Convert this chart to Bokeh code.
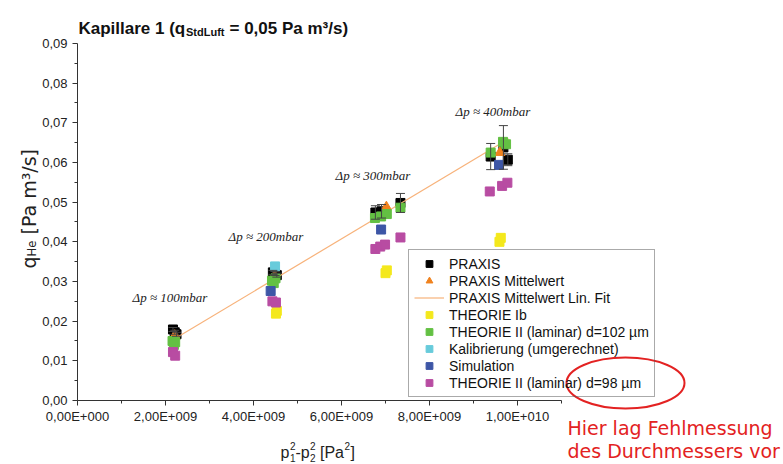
import math
from bokeh.plotting import figure
from bokeh.models import (Range1d, FixedTicker, Label, Legend, LegendItem,
                          Whisker, TeeHead, ColumnDataSource)
from bokeh.embed import file_html
from bokeh.resources import INLINE

# ---------------- data ----------------
praxis_x = [2.17e9, 2.21e9, 2.25e9, 4.44e9, 4.49e9, 4.53e9, 6.77e9, 6.91e9, 7.34e9, 9.39e9, 9.68e9, 9.78e9]
praxis_y = [0.0179, 0.0172, 0.0167, 0.0323, 0.0320, 0.0316, 0.0474, 0.0477, 0.0498, 0.0615, 0.0638, 0.0607]
praxis_err = [0.0005, 0.0005, 0.0005, 0.0005, 0.0005, 0.0005, 0.0017, 0.0017, 0.0024, 0.0033, 0.0055, 0.0015]

mean_x = [2.21e9, 4.48e9, 7.02e9, 9.60e9]
mean_y = [0.0164, 0.0314, 0.0488, 0.0625]

fit_x = [2.2e9, 9.8e9]
fit_y = [0.0155, 0.0660]

theo1b_x = [4.51e9, 4.53e9, 7.00e9, 7.03e9, 9.59e9, 9.62e9]
theo1b_y = [0.0219, 0.0226, 0.0321, 0.0328, 0.0400, 0.0410]

theo2_102_x = [2.16e9, 2.22e9, 2.19e9, 4.42e9, 4.50e9, 4.46e9, 6.76e9, 6.90e9, 7.03e9, 7.34e9, 9.39e9, 9.67e9, 9.74e9]
theo2_102_y = [0.0150, 0.0147, 0.0140, 0.0302, 0.0308, 0.0296, 0.0460, 0.0464, 0.0470, 0.0486, 0.0625, 0.0652, 0.0646]

kalib_x = [4.49e9]
kalib_y = [0.0338]

sim_x = [4.39e9, 6.90e9, 9.58e9]
sim_y = [0.0276, 0.0431, 0.0594]

theo2_98_x = [2.17e9, 2.22e9, 4.43e9, 4.51e9, 6.77e9, 6.88e9, 6.99e9, 7.34e9, 9.37e9, 9.65e9, 9.77e9]
theo2_98_y = [0.0122, 0.0113, 0.0250, 0.0247, 0.0382, 0.0388, 0.0393, 0.0411, 0.0527, 0.0541, 0.0549]

x_ticks = [0, 2e9, 4e9, 6e9, 8e9, 1e10]
x_tick_labels = ["0,00E+000", "2,00E+009", "4,00E+009", "6,00E+009", "8,00E+009", "1,00E+010"]
x_minor = [1e9, 3e9, 5e9, 7e9, 9e9, 1.1e10]
y_ticks = [0.0, 0.01, 0.02, 0.03, 0.04, 0.05, 0.06, 0.07, 0.08, 0.09]
y_tick_labels = ["0,00", "0,01", "0,02", "0,03", "0,04", "0,05", "0,06", "0,07", "0,08", "0,09"]
y_minor = [0.005, 0.015, 0.025, 0.035, 0.045, 0.055, 0.065, 0.075, 0.085]

dp_labels = ["Δp ≈ 100mbar", "Δp ≈ 200mbar", "Δp ≈ 300mbar", "Δp ≈ 400mbar"]

legend_labels = ["PRAXIS", "PRAXIS Mittelwert", "PRAXIS Mittelwert Lin. Fit", "THEORIE Ib",
                 "THEORIE II (laminar) d=102 µm", "Kalibrierung (umgerechnet)", "Simulation",
                 "THEORIE II (laminar) d=98 µm"]

# ---------------- geometry (canvas px -> data, for annotations) ----------------
X0, XPX = 77.0, 44.0 / 1e9     # px of x=0, px per unit
Y0, YPX = 400.0, 3966.7        # px of y=0, px per unit
W, H = 783, 464


def ax(px):
    return (px - X0) / XPX


def ay(py):
    return (Y0 - py) / YPX


p = figure(width=W, height=H, output_backend="svg", toolbar_location=None,
           x_range=Range1d(ax(0), ax(W)), y_range=Range1d(ay(H), ay(0)),
           min_border=0, min_border_left=0, min_border_right=0, min_border_top=0, min_border_bottom=0)
p.outline_line_color = None
p.grid.visible = False
p.background_fill_color = "white"
p.border_fill_color = "white"

AX_COL = "#333333"
for axis in (p.xaxis[0], p.yaxis[0]):
    axis.axis_line_color = AX_COL
    axis.major_tick_line_color = AX_COL
    axis.minor_tick_line_color = AX_COL
    axis.major_tick_out = 5
    axis.major_tick_in = 0
    axis.minor_tick_out = 3
    axis.minor_tick_in = 0
    axis.major_label_text_font = "Liberation Sans"
    axis.major_label_text_font_size = "13px"
    axis.major_label_text_color = "#222222"
    axis.fixed_location = 0

p.xaxis.ticker = FixedTicker(ticks=x_ticks, minor_ticks=x_minor)
p.xaxis.major_label_overrides = dict(zip(x_ticks, x_tick_labels))
p.xaxis.bounds = (0, 1.1e10)
p.xaxis.major_label_standoff = 3

p.yaxis.ticker = FixedTicker(ticks=y_ticks, minor_ticks=y_minor)
p.yaxis.major_label_overrides = dict(zip(y_ticks, y_tick_labels))
p.yaxis.bounds = (0, 0.09)
p.yaxis.major_label_standoff = 5

# ---------------- series ----------------
SQ = 9
r_praxis = p.scatter(praxis_x, praxis_y, marker="square", size=SQ, color="#000000")
r_mean = p.scatter(mean_x, mean_y, marker="triangle", size=10, color="#f0821e")
r_fit = p.line(fit_x, fit_y, line_color="#f7b27a", line_width=1.2)
r_1b = p.scatter(theo1b_x, theo1b_y, marker="square", size=SQ, color="#f4e81c")
r_102 = p.scatter(theo2_102_x, theo2_102_y, marker="square", size=SQ, color="#63c043")
r_kal = p.scatter(kalib_x, kalib_y, marker="square", size=SQ, color="#67cbdb")
r_sim = p.scatter(sim_x, sim_y, marker="square", size=SQ, color="#3d56a6")
r_98 = p.scatter(theo2_98_x, theo2_98_y, marker="square", size=SQ, color="#b84ca2")

err_src = ColumnDataSource(dict(
    x=praxis_x,
    upper=[y + e for y, e in zip(praxis_y, praxis_err)],
    lower=[y - e for y, e in zip(praxis_y, praxis_err)],
))
p.add_layout(Whisker(base="x", upper="upper", lower="lower", source=err_src, dimension="height",
                     line_color="#444444", line_width=1, level="overlay",
                     upper_head=TeeHead(size=9, line_color="#444444", line_width=1),
                     lower_head=TeeHead(size=9, line_color="#444444", line_width=1)))

# ---------------- red remark ellipse (glyph, visible through the transparent legend) ----------------
p.ellipse(x=[ax(625)], y=[ay(382.5)], width=[118], height=[51], width_units="screen",
          height_units="screen", fill_alpha=0, line_color="#e32222", line_width=2)

# ---------------- legend ----------------
renderers = [r_praxis, r_mean, r_fit, r_1b, r_102, r_kal, r_sim, r_98]
legend = Legend(items=[LegendItem(label=l, renderers=[r]) for l, r in zip(legend_labels, renderers)],
                location=(408, H - 397), orientation="vertical",
                label_text_font="Liberation Sans", label_text_font_size="14px", label_text_color="#111111",
                glyph_width=30, glyph_height=17, label_height=17, label_standoff=5,
                spacing=0, padding=5, margin=0,
                border_line_color="#555555", border_line_width=1.3,
                background_fill_color="white", background_fill_alpha=0.0)
p.add_layout(legend, "center")

# ---------------- annotations ----------------
dp_pos = [(132, 297), (228, 236), (335, 175), (455, 111)]
for txt, (px, py) in zip(dp_labels, dp_pos):
    p.add_layout(Label(x=ax(px), y=ay(py), text=txt, text_font="Liberation Serif",
                       text_font_style="italic", text_font_size="13px", text_color="#222222",
                       text_baseline="middle", text_align="left"))

# title with subscript
title_parts = [("Kapillare 1 (q", 78, 28, "17px"), ("StdLuft", 185.5, 31.5, "11px"),
               ("= 0,05 Pa m³/s)", 229, 28, "17px")]
for txt, px, py, fs in title_parts:
    p.add_layout(Label(x=ax(px), y=ay(py), text=txt, text_font="Liberation Sans",
                       text_font_style="bold", text_font_size=fs, text_color="#111111",
                       text_baseline="alphabetic", text_align="left"))

# y axis label (rotated, with subscript)
ylab_parts = [("q", 28, 268, "19px"), ("He", 31.5, 255.9, "11.5px"), ("[Pa m³/s]", 28, 234, "19px")]
for txt, px, py, fs in ylab_parts:
    p.add_layout(Label(x=ax(px), y=ay(py), text=txt, text_font="DejaVu Sans", text_font_size=fs,
                       text_color="#222222", angle=math.pi / 2, angle_units="rad",
                       text_baseline="alphabetic", text_align="left"))

# x axis label p1^2 - p2^2 [Pa^2]
xlab_parts = [("p", 280, 452, "16px"), ("2", 289.5, 445, "10px"), ("1", 289.5, 457, "10px"),
              ("-p", 295, 452, "16px"), ("2", 309.5, 445, "10px"), ("2", 309.5, 457, "10px"),
              ("[Pa", 319.5, 452, "16px"), ("2", 344, 445, "10px"), ("]", 350, 452, "16px")]
for txt, px, py, fs in xlab_parts:
    p.add_layout(Label(x=ax(px), y=ay(py), text=txt, text_font="Liberation Sans", text_font_size=fs,
                       text_color="#222222", text_baseline="alphabetic", text_align="left"))

for txt, py in (("Hier lag Fehlmessung", 427), ("des Durchmessers vor", 450)):
    p.add_layout(Label(x=ax(567), y=ay(py), text=txt, text_font="DejaVu Sans", text_font_size="19px",
                       text_color="#e32222", text_baseline="middle", text_align="left"))

open("out.html", "w").write(file_html(p, INLINE))
